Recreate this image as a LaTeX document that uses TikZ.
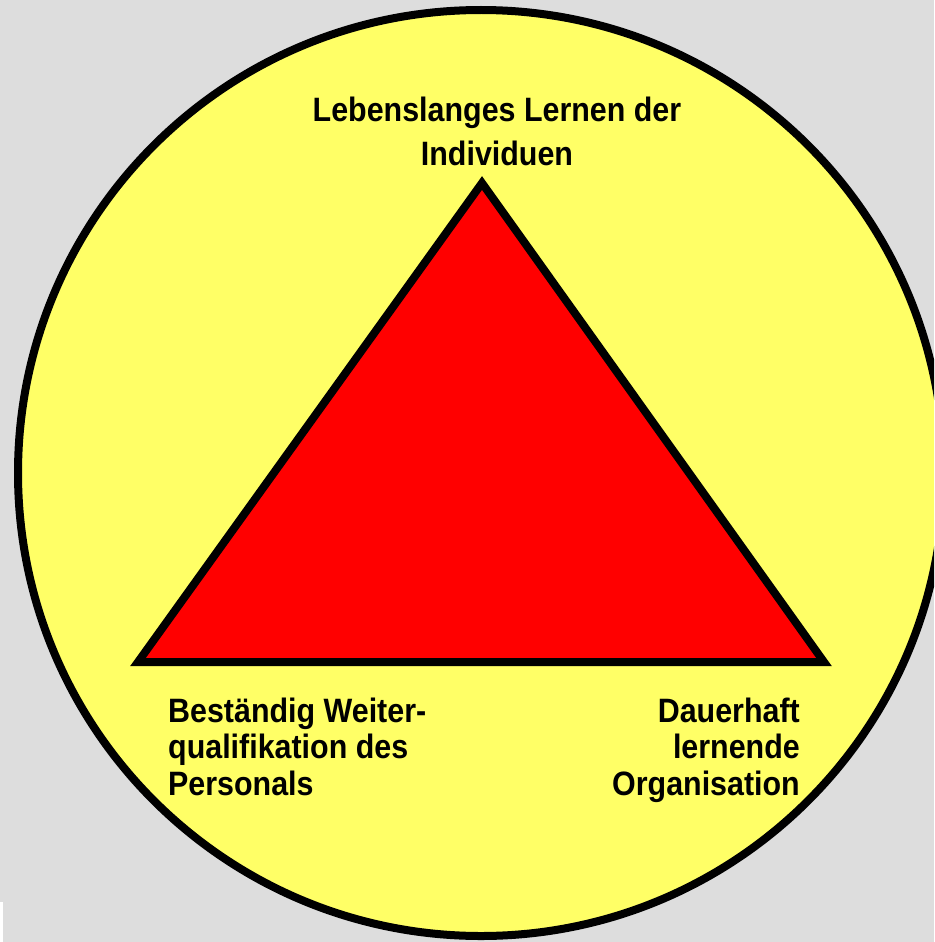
\documentclass[tikz,border=0pt]{standalone}
\usepackage{fontspec}
\setmainfont{Liberation Sans}[FakeStretch=0.9]
\definecolor{bggray}{HTML}{DDDDDD}
\definecolor{circyellow}{HTML}{FFFF66}
\definecolor{trired}{HTML}{FF0000}
\begin{document}
\begin{tikzpicture}[x=1pt,y=-1pt,
  lbl/.style={inner sep=0pt, font=\bfseries\fontsize{33.8}{36.5}\selectfont},
  outline/.style={draw=black, line width=8pt}]
\useasboundingbox (0,0) rectangle (934,942);
\clip (0,0) rectangle (934,942);
\fill[bggray] (0,0) rectangle (934,942);
\fill[white] (0,902) rectangle (3,942);
\draw[outline, fill=circyellow] (481,473) circle[radius=463];
\draw[outline, fill=trired, line join=miter] (482,183) -- (824,662) -- (138,662) -- cycle;
\node[lbl, align=center, anchor=base] (top) at (497,165) {Lebenslanges Lernen der\\[7.5pt]Individuen};
\node[lbl, align=left, anchor=base west] (left) at (168,795) {Beständig Weiter-\\qualifikation des\\Personals};
\node[lbl, align=right, anchor=base east] (right) at (800,795) {Dauerhaft\\lernende\\Organisation};
\end{tikzpicture}
\end{document}
